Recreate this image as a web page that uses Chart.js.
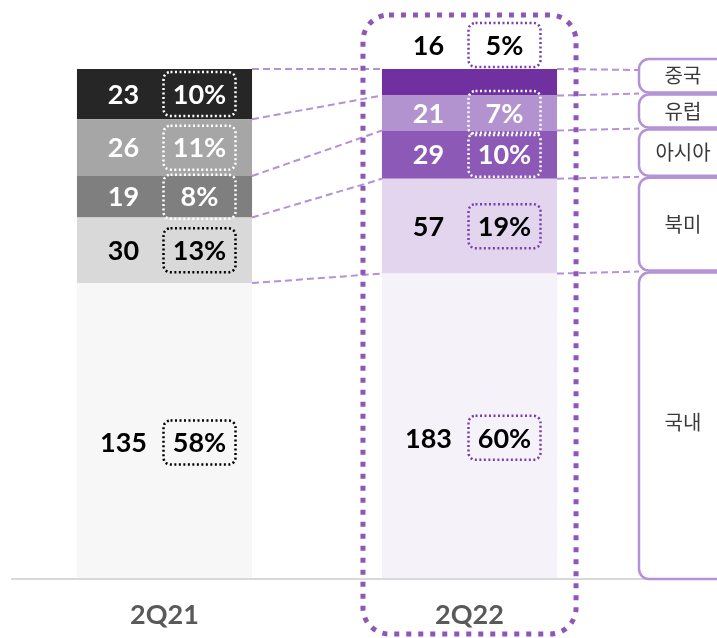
<!DOCTYPE html>
<html>
<head>
<meta charset="utf-8">
<script src="https://cdn.jsdelivr.net/npm/chart.js@4.4.1/dist/chart.umd.min.js"></script>
<style>
  html, body { margin: 0; padding: 0; background: #fff; }
  #wrap { width: 717px; height: 638px; }
</style>
</head>
<body>
<div id="wrap"><canvas id="regionChart" width="717" height="638"></canvas></div>
<script>
// ===== DATA =====
const categories = ['2Q21', '2Q22'];
const regions    = ['국내', '북미', '아시아', '유럽', '중국'];   // bottom -> top

const domestic = [135, 183];
const northAm  = [30, 57];
const asia     = [19, 29];
const europe   = [26, 21];
const china    = [23, 16];

const domesticPct = [58, 60];
const northAmPct  = [13, 19];
const asiaPct     = [8, 10];
const europePct   = [11, 7];
const chinaPct    = [10, 5];

const values = [domestic, northAm, asia, europe, china];
const pcts   = [domesticPct, northAmPct, asiaPct, europePct, chinaPct];

// ===== STYLES =====
const grayColors   = ['#f7f7f7', '#d9d9d9', '#7f7f7f', '#a6a6a6', '#262626'];
const purpleColors = ['#f5f2fa', '#e3d5ee', '#8c5ab6', '#b393cf', '#7030a0'];
const textColors   = [['#000', '#000'], ['#000', '#000'], ['#fff', '#fff'], ['#fff', '#fff'], ['#fff', '#000']];
const boxColors    = [['#000', '#7a3fae'], ['#000', '#7a3fae'], ['#fff', '#fff'], ['#fff', '#fff'], ['#fff', '#7a3fae']];
const LINE_PURPLE  = '#b591d5';
const FONT = 'Lato, "Liberation Sans", sans-serif';
const KFONT = '"Noto Sans CJK KR", sans-serif';

const totals = categories.map((_, j) => values.reduce((s, arr) => s + arr[j], 0));

function roundRect(ctx, x, y, w, h, r) {
  ctx.beginPath();
  ctx.moveTo(x + r, y);
  ctx.lineTo(x + w - r, y);
  ctx.arcTo(x + w, y, x + w, y + r, r);
  ctx.lineTo(x + w, y + h - r);
  ctx.arcTo(x + w, y + h, x + w - r, y + h, r);
  ctx.lineTo(x + r, y + h);
  ctx.arcTo(x, y + h, x, y + h - r, r);
  ctx.lineTo(x, y + r);
  ctx.arcTo(x, y, x + r, y, r);
  ctx.closePath();
}

// ===== OVERLAY PLUGIN =====
const overlay = {
  id: 'overlay',
  afterDatasetsDraw(chart) {
    const ctx = chart.ctx;
    const area = chart.chartArea;
    const metas = regions.map((_, i) => chart.getDatasetMeta(i).data);
    const n = regions.length;

    ctx.save();

    // axis line
    ctx.strokeStyle = '#d9d9d9';
    ctx.lineWidth = 2;
    ctx.beginPath();
    ctx.moveTo(area.left - 1, area.bottom + 1);
    ctx.lineTo(650, area.bottom + 1);
    ctx.stroke();

    // legend box edges follow the 2Q22 segments
    const legX = 639;
    const b1 = metas.map(d => d[1]);
    const edges = [];
    for (let i = 0; i < n; i++) {
      const top = i === n - 1 ? b1[i].y - 11 : b1[i].y - 2;
      const bottom = i === 0 ? b1[i].base + 2 : b1[i - 1].y - 2;
      edges.push([top, bottom]);
    }

    // connectors
    ctx.strokeStyle = LINE_PURPLE;
    ctx.lineWidth = 2;
    ctx.setLineDash([7, 4]);
    for (let i = 0; i < n; i++) {
      const a = metas[i][0], b = metas[i][1];
      ctx.beginPath();
      ctx.moveTo(a.x + a.width / 2, a.y);
      ctx.lineTo(b.x - b.width / 2, b.y);
      ctx.stroke();
      const ly = i === n - 1 ? b.y + 1 : edges[i][0];
      ctx.beginPath();
      ctx.moveTo(b.x + b.width / 2, b.y);
      ctx.lineTo(legX, ly);
      ctx.stroke();
    }
    ctx.setLineDash([]);

    // legend boxes
    ctx.lineWidth = 2.5;
    ctx.strokeStyle = LINE_PURPLE;
    ctx.font = '20px ' + KFONT;
    ctx.textAlign = 'center';
    ctx.textBaseline = 'middle';
    for (let i = 0; i < n; i++) {
      const [top, bottom] = edges[i];
      ctx.fillStyle = '#fff';
      roundRect(ctx, legX, top + 1, 120, bottom - top - 2, 10);
      ctx.fill();
      ctx.stroke();
      ctx.fillStyle = '#3a3a3a';
      ctx.fillText(regions[i], 683, (top + bottom) / 2 + (i === 0 ? -3 : 0));
    }

    // value / percent labels
    for (let i = 0; i < n; i++) {
      metas[i].forEach((bar, j) => {
        const h = bar.base - bar.y;
        let cy = (bar.y + bar.base) / 2;
        if (i === 0) cy += 12;
        if (h < 30) cy = bar.y - 24;
        ctx.font = 'bold 27px ' + FONT;
        ctx.textAlign = 'center';
        ctx.textBaseline = 'middle';
        ctx.fillStyle = textColors[i][j];
        ctx.fillText(String(values[i][j]), bar.x - 41, cy + 1);
        const bx = bar.x + 35;
        ctx.fillText(pcts[i][j] + '%', bx, cy + 1);
        ctx.strokeStyle = boxColors[i][j];
        ctx.lineWidth = 2.5;
        ctx.setLineDash([2, 2.5]);
        roundRect(ctx, bx - 36, cy - 22, 72, 44, 7);
        ctx.stroke();
        ctx.setLineDash([]);
      });
    }

    // big dotted frame around latest quarter
    const last = b1[0];
    ctx.strokeStyle = '#8e56b7';
    ctx.lineWidth = 5;
    ctx.setLineDash([5, 7]);
    roundRect(ctx, last.x - last.width / 2 - 19, 15, last.width + 38, 619, 26);
    ctx.stroke();
    ctx.restore();
  }
};

// ===== CHART =====
const ctx = document.getElementById('regionChart').getContext('2d');
new Chart(ctx, {
  type: 'bar',
  data: {
    labels: categories,
    datasets: regions.map((name, i) => ({
      label: name,
      data: values[i].map((v, j) => v / totals[j]),
      backgroundColor: [grayColors[i], purpleColors[i]],
      borderWidth: 0,
      barPercentage: 0.574,
      categoryPercentage: 1,
    }))
  },
  options: {
    responsive: false,
    animation: false,
    layout: { padding: { left: 12, right: 95, top: 69, bottom: 0 } },
    plugins: {
      legend: { display: false },
      tooltip: { enabled: false }
    },
    scales: {
      x: {
        stacked: true,
        grid: { display: false, drawTicks: false },
        border: { display: false },
        ticks: { color: '#595959', font: { family: FONT, size: 27, weight: 'bold' }, padding: 21 },
        afterFit: s => { s.height = 60; }
      },
      y: {
        stacked: true,
        display: false,
        min: 0,
        max: 1
      }
    }
  },
  plugins: [overlay]
});
</script>
</body>
</html>
